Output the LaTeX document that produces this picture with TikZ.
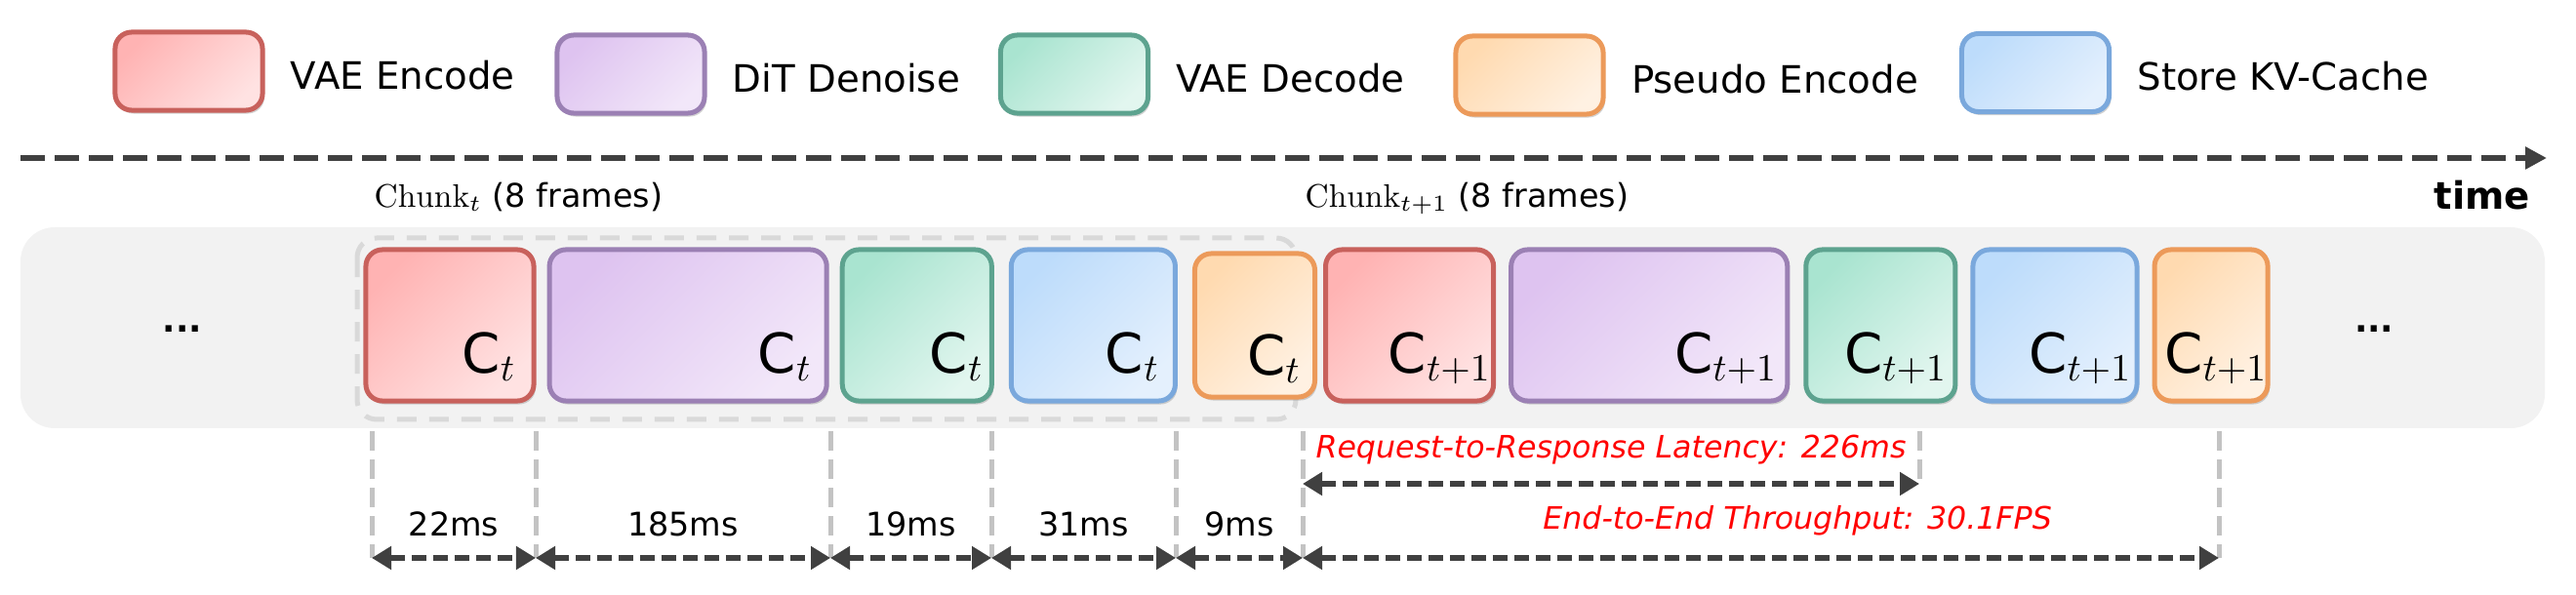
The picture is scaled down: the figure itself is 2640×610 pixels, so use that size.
\RequirePackage{fix-cm}
\documentclass[tikz,border=0pt]{standalone}
\usepackage{fontspec}
\setsansfont{DejaVu Sans}
\usetikzlibrary{positioning,arrows.meta,shadows}

\definecolor{encline}{HTML}{C8615C}
\definecolor{encdark}{HTML}{FFB3B3}
\definecolor{enclight}{HTML}{FFE2E2}
\definecolor{ditline}{HTML}{9B80B4}
\definecolor{ditdark}{HTML}{DEC3F0}
\definecolor{ditlight}{HTML}{F2E7F9}
\definecolor{decline}{HTML}{5DA38F}
\definecolor{decdark}{HTML}{A9E4D0}
\definecolor{declight}{HTML}{E2F6EF}
\definecolor{pseline}{HTML}{EC9A5A}
\definecolor{psedark}{HTML}{FFDAB0}
\definecolor{pselight}{HTML}{FFF1E2}
\definecolor{kvline}{HTML}{7AA8DC}
\definecolor{kvdark}{HTML}{BDDCFB}
\definecolor{kvlight}{HTML}{E4F0FD}
\definecolor{bggray}{HTML}{F2F2F2}
\definecolor{framegray}{HTML}{D9D9D9}
\definecolor{tickgray}{HTML}{C3C3C3}
\definecolor{arrowgray}{HTML}{404040}
\definecolor{labred}{HTML}{FF0000}

\begin{document}
\begin{tikzpicture}[x=0.01cm, y=-0.01cm, font=\sffamily,
  stage/.style={rounded corners=0.17cm, line width=0.05cm, minimum height=1.55cm, inner sep=0pt,
    drop shadow={shadow xshift=0.02cm, shadow yshift=-0.035cm, opacity=0.35}},
  legbox/.style={minimum width=1.51cm, minimum height=0.8cm},
  enc/.style={draw=encline, top color=encdark, bottom color=enclight, shading angle=45},
  dit/.style={draw=ditline, top color=ditdark, bottom color=ditlight, shading angle=45},
  dec/.style={draw=decline, top color=decdark, bottom color=declight, shading angle=45},
  pse/.style={draw=pseline, top color=psedark, bottom color=pselight, shading angle=45},
  kv/.style={draw=kvline, top color=kvdark, bottom color=kvlight, shading angle=45},
  legtext/.style={font=\sffamily\fontsize{11}{13}\selectfont, yshift=-0.04cm},
  clab/.style={anchor=base east, inner sep=0pt, font=\sffamily\fontsize{16}{18}\selectfont},
  chunktext/.style={anchor=base west, inner sep=0pt, font=\sffamily\fontsize{9.5}{11}\selectfont},
  dimtext/.style={font=\sffamily\fontsize{9.5}{11}\selectfont},
  redtext/.style={text=labred, font=\sffamily\itshape\fontsize{9}{11}\selectfont},
  dots/.style={font=\sffamily\bfseries\fontsize{10}{12}\selectfont},
  timeline/.style={draw=arrowgray, line width=0.06cm, dash pattern=on 0.25cm off 0.1cm,
    -{Triangle[width=0.22cm,length=0.22cm]}},
  tick/.style={draw=tickgray, line width=0.05cm, dash pattern=on 0.2cm off 0.09cm},
  dimarrow/.style={draw=arrowgray, line width=0.065cm, dash pattern=on 0.15cm off 0.07cm,
    {Triangle[width=0.23cm,length=0.2cm]}-{Triangle[width=0.23cm,length=0.2cm]}},
  chunkframe/.style={draw=framegray, line width=0.05cm, dash pattern=on 0.2cm off 0.13cm, rounded corners=0.2cm}]
\useasboundingbox (0,0) rectangle (2640,610);

% legend
\node[stage, legbox, enc] (lgenc) at (193.5,73) {};
\node[legtext, right=0.14cm of lgenc] (lgenctxt) {VAE Encode};
\node[stage, legbox, dit] (lgdit) at (646.5,76) {};
\node[legtext, right=0.14cm of lgdit] (lgdittxt) {DiT Denoise};
\node[stage, legbox, dec] (lgdec) at (1101,76) {};
\node[legtext, right=0.14cm of lgdec] (lgdectxt) {VAE Decode};
\node[stage, legbox, pse] (lgpse) at (1567.5,77) {};
\node[legtext, right=0.14cm of lgpse] (lgpsetxt) {Pseudo Encode};
\node[stage, legbox, kv] (lgkv) at (2086,74.5) {};
\node[legtext, right=0.14cm of lgkv] (lgkvtxt) {Store KV-Cache};

% time axis
\coordinate (tstart) at (21,162);
\coordinate (tend) at (2610,162);
\draw[timeline] (tstart) -- (tend);
\node[font=\sffamily\bfseries\fontsize{11}{13}\selectfont] (timelab) at (2544,200) {time};

% chunk row
\fill[bggray, rounded corners=0.35cm] (21,233) rectangle (2608,439);
\draw[chunkframe] (366,244) rectangle (1328,430);
\node[chunktext] (chunk1) at (383,213) {$\mathrm{Chunk}_t$ (8 frames)};
\node[chunktext] (chunk2) at (1337,213) {$\mathrm{Chunk}_{t+1}$ (8 frames)};
\node[dots] (ldots) at (187,337) {...};
\node[dots] (rdots) at (2433,337) {...};

\node[stage, enc, minimum width=1.72cm] (e1) at (461,333.5) {};
\node[stage, dit, minimum width=2.84cm, right=0.11cm of e1] (d1) {};
\node[stage, dec, minimum width=1.53cm, right=0.11cm of d1] (v1) {};
\node[stage, kv, minimum width=1.68cm, right=0.15cm of v1] (k1) {};
\node[stage, pse, minimum width=1.23cm, minimum height=1.47cm, right=0.15cm of k1] (p1) {};
\node[stage, enc, minimum width=1.72cm, right=0.06cm of p1] (e2) {};
\node[stage, dit, minimum width=2.83cm, right=0.13cm of e2] (d2) {};
\node[stage, dec, minimum width=1.53cm, right=0.14cm of d2] (v2) {};
\node[stage, kv, minimum width=1.68cm, right=0.13cm of v2] (k2) {};
\node[stage, pse, minimum width=1.16cm, right=0.13cm of k2] (p2) {};

\node[clab] (e1lab) at ([shift={(-20,-31)}]e1.south east) {C$_t$};
\node[clab] (d1lab) at ([shift={(-17,-31)}]d1.south east) {C$_t$};
\node[clab] (v1lab) at ([shift={(-10,-31)}]v1.south east) {C$_t$};
\node[clab] (k1lab) at ([shift={(-18,-31)}]k1.south east) {C$_t$};
\node[clab] (p1lab) at ([shift={(-16,-25)}]p1.south east) {C$_t$};
\node[clab] (e2lab) at ([shift={(-4,-31)}]e2.south east) {C$_{t+1}$};
\node[clab] (d2lab) at ([shift={(-12,-31)}]d2.south east) {C$_{t+1}$};
\node[clab] (v2lab) at ([shift={(-10,-31)}]v2.south east) {C$_{t+1}$};
\node[clab] (k2lab) at ([shift={(-7,-31)}]k2.south east) {C$_{t+1}$};
\node[clab] (p2lab) at ([shift={(-2,-31)}]p2.south east) {C$_{t+1}$};

% timing marks
\coordinate (t0) at (381,442);
\coordinate (t1) at (549,442);
\coordinate (t2) at (851,442);
\coordinate (t3) at (1016,442);
\coordinate (t4) at (1205,442);
\coordinate (t5) at (1335,442);
\coordinate (t6) at (1967,442);
\coordinate (t7) at (2274,442);
\coordinate (b0) at (381,572);
\coordinate (b1) at (549,572);
\coordinate (b2) at (851,572);
\coordinate (b3) at (1016,572);
\coordinate (b4) at (1205,572);
\coordinate (b5) at (1335,572);
\coordinate (b7) at (2274,572);
\coordinate (l5) at (1335,496);
\coordinate (l6) at (1967,496);

\draw[tick] (t0) -- (b0);
\draw[tick] (t1) -- (b1);
\draw[tick] (t2) -- (b2);
\draw[tick] (t3) -- (b3);
\draw[tick] (t4) -- (b4);
\draw[tick] (t5) -- (b5);
\draw[tick] (t6) -- (l6);
\draw[tick] (t7) -- (b7);

\draw[dimarrow] (b0) -- node[midway, above=0.07cm, dimtext] {22ms} (b1);
\draw[dimarrow] (b1) -- node[midway, above=0.07cm, dimtext] {185ms} (b2);
\draw[dimarrow] (b2) -- node[midway, above=0.07cm, dimtext] {19ms} (b3);
\draw[dimarrow] (b3) -- node[midway, above=0.07cm, dimtext] {31ms} (b4);
\draw[dimarrow] (b4) -- node[midway, above=0.07cm, dimtext] {9ms} (b5);
\draw[dimarrow] (l5) -- node[midway, above=0.05cm, redtext] {Request-to-Response Latency: 226ms} (l6);
\draw[dimarrow] (b5) -- node[pos=0.54, above=0.08cm, redtext] {End-to-End Throughput: 30.1FPS} (b7);
\end{tikzpicture}
\end{document}
